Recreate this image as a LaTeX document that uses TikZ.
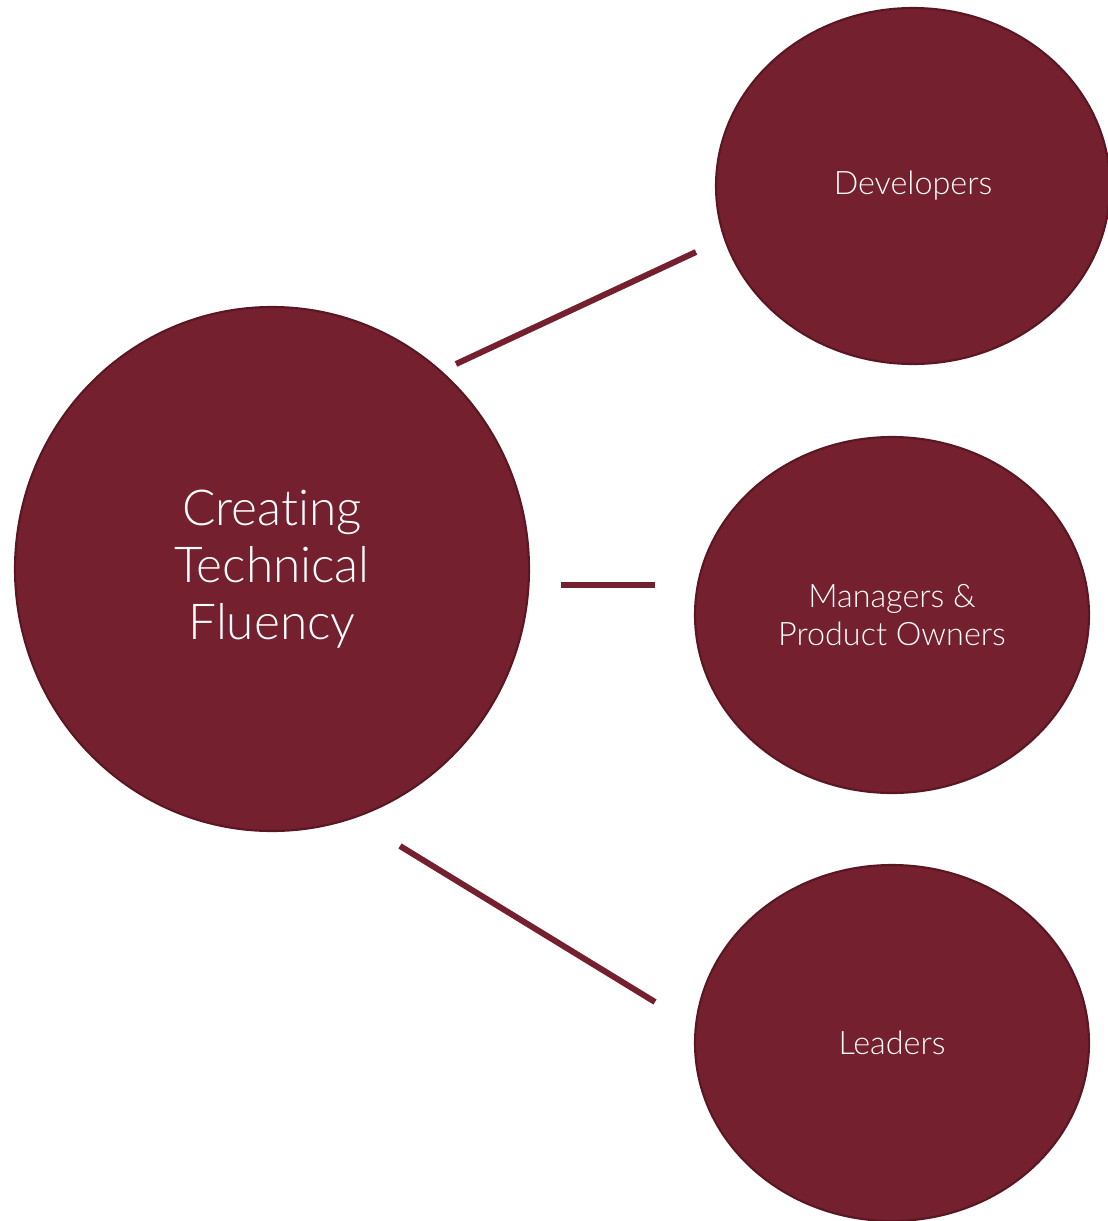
\documentclass[tikz,border=0pt]{standalone}
\usepackage{fontspec}
\setmainfont{Lato}[UprightFont=* Light, Ligatures={NoCommon}]
\usetikzlibrary{shapes.geometric}
\definecolor{wine}{HTML}{75202F}
\definecolor{winedark}{HTML}{5A1723}

\begin{document}
\begin{tikzpicture}[scale=1]
\tikzstyle{every node} = [ellipse, draw=winedark, line width=0.6, fill=wine, text=white, align=center, inner sep=0]
\tikzstyle{bigblob} = [minimum width=5.14cm, minimum height=5.24cm, font=\fontsize{14.1}{16.3}\selectfont]
\tikzstyle{blob} = [minimum width=3.94cm, minimum height=3.56cm, font=\fontsize{9.2}{10.8}\selectfont]
\tikzstyle{edge} = [draw=wine, line width=1.7]
\useasboundingbox (0,0) rectangle (11.07,-12.21);
\node[bigblob] (fluency) at (2.72, -5.69) {Creating\\Technical\\Fluency};
\node[blob] (dev) at (9.13, -1.86) {Developers};
\node[blob] (mgr) at (8.92, -6.15) {Managers \&\\Product Owners};
\node[blob] (lead) at (8.92, -10.43) {Leaders};
\coordinate (dev_a) at (4.56, -3.64);
\coordinate (dev_b) at (6.96, -2.52);
\coordinate (mgr_a) at (5.61, -5.85);
\coordinate (mgr_b) at (6.55, -5.85);
\coordinate (lead_a) at (4.00, -8.46);
\coordinate (lead_b) at (6.55, -10.02);
\draw[edge] (dev_a) -- (dev_b);
\draw[edge] (mgr_a) -- (mgr_b);
\draw[edge] (lead_a) -- (lead_b);
\end{tikzpicture}
\end{document}
